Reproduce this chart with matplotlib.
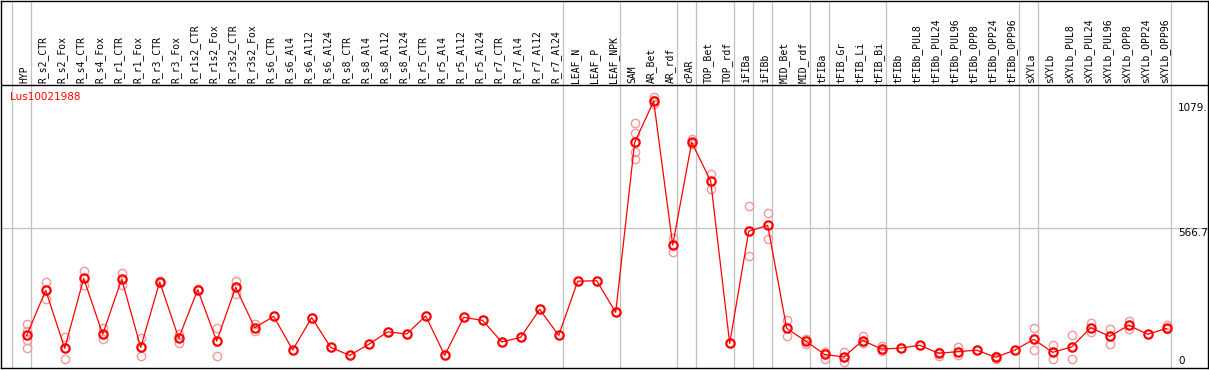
import matplotlib
matplotlib.use('Agg')
import matplotlib.pyplot as plt
import numpy as np

gene = 'Lus10021988'

samples = ['HYP', 'R_s2_CTR', 'R_s2_Fox', 'R_s4_CTR', 'R_s4_Fox', 'R_r1_CTR', 'R_r1_Fox',
           'R_r3_CTR', 'R_r3_Fox', 'R_r1s2_CTR', 'R_r1s2_Fox', 'R_r3s2_CTR', 'R_r3s2_Fox',
           'R_s6_CTR', 'R_s6_Al4', 'R_s6_Al12', 'R_s6_Al24', 'R_s8_CTR', 'R_s8_Al4',
           'R_s8_Al12', 'R_s8_Al24', 'R_r5_CTR', 'R_r5_Al4', 'R_r5_Al12', 'R_r5_Al24',
           'R_r7_CTR', 'R_r7_Al4', 'R_r7_Al12', 'R_r7_Al24', 'LEAF_N', 'LEAF_P', 'LEAF_NPK',
           'SAM', 'AR_Bet', 'AR_rdf', 'cPAR', 'TOP_Bet', 'TOP_rdf', 'iFIBa', 'iFIBb',
           'MID_Bet', 'MID_rdf', 'tFIBa', 'tFIB_Gr', 'tFIB_Li', 'tFIB_Bi', 'tFIBb',
           'tFIBb_PUL8', 'tFIBb_PUL24', 'tFIBb_PUL96', 'tFIBb_OPP8', 'tFIBb_OPP24',
           'tFIBb_OPP96', 'sXYLa', 'sXYLb', 'sXYLb_PUL8', 'sXYLb_PUL24', 'sXYLb_PUL96',
           'sXYLb_OPP8', 'sXYLb_OPP24', 'sXYLb_OPP96']

means = [109, 301, 54, 352, 114, 349, 58, 337, 97, 304, 85, 314, 142,
         190, 47, 185, 58, 24, 71, 124, 115, 192, 24, 186, 173, 81, 101, 220, 109,
         340, 342, 207,
         932, 1107, 494, 932, 766, 75, 553, 578, 139, 85,
         28, 17, 87, 51, 55, 67, 33, 40, 46, 16, 46,
         92, 37, 60, 142, 105, 152, 114, 139]

reps = [[158, 128, 89, 55], [335, 264], [101, 8], [383, 324], [139, 92], [375, 324],
        [99, 20], [342, 331], [114, 78], [306, 302], [142, 23], [342, 284], [156, 129],
        [], [], [], [], [], [], [], [], [], [], [], [], [], [], [], [],
        [], [], [],
        [1013, 970, 889, 859], [1124, 1112, 1093], [524, 463], [946, 923], [795, 731],
        [], [660, 446], [629, 521], [175, 105], [95, 71],
        [40, 10], [40, -4], [107, 75], [65, 43], [], [], [40, 23], [60, 24], [],
        [23, 7], [],
        [139, 46], [68, 10], [111, 10], [163, 125], [136, 74], [169, 136], [], [153, 136]]

# number of samples in each tissue group
groups = [1, 28, 3, 3, 1, 2, 1, 1, 2, 1, 3, 7, 1, 7]

y_ticks = [0, 566.7, 1079]
y_tick_labels = ['0', '566.7', '1079.']

# pixel layout helpers
px_x0, px_dx = 26.7, 19.0      # x pixel of first sample, spacing
px_y0, px_k = 361.0, 0.2347    # y pixel of value 0, pixels per unit

def vx(p):
    return (p - px_x0) / px_dx

def vy(p):
    return (px_y0 - p) / px_k

fig = plt.figure(figsize=(12.09, 3.70), dpi=100)
ax = fig.add_axes([1 / 1209, 2 / 370, 1207 / 1209, 367 / 370])
ax.set_xlim(vx(1), vx(1208))
ax.set_ylim(vy(368), vy(1))
ax.set_xticks([])
ax.set_yticks([])
for s in ax.spines.values():
    s.set_color('black')
    s.set_linewidth(1.0)

grid_color = '#c0c0c0'
x = np.arange(len(samples))
label_line = vy(85)

# group separators
ends = np.cumsum([0] + groups) - 1
for e in ends:
    ax.axvline(e + 4 / px_dx, color=grid_color, lw=0.9, zorder=1)

ax.axhline(label_line, color='black', lw=1.0, zorder=3)
ax.hlines(566.7, vx(1), vx(1208), color=grid_color, lw=0.9, zorder=1)

# replicate points
for i, r in enumerate(reps):
    if r:
        ax.plot([i] * len(r), r, 'o', ms=6, mfc='none', mec='#f09a9a', mew=1.0, zorder=2)

ax.plot(x, means, '-', color='red', lw=0.9, zorder=3)
ax.plot(x, means, 'o', ms=6, mfc='none', mec='red', mew=1.6, zorder=4)

# sample labels
for i, name in enumerate(samples):
    ax.text(i - 2.5 / px_dx, vy(83), name, rotation=90, ha='center', va='bottom',
            family='DejaVu Sans Mono', fontsize=7, color='black')

ax.text(vx(10), vy(97), gene, color='red', fontsize=7.5, ha='left', va='center')

for v, lab in zip(y_ticks, y_tick_labels):
    va = 'top' if v == 566.7 else 'center'
    ax.text(vx(1178), v, lab, fontsize=7.5, ha='left', va=va, color='black')

fig.savefig('out.png', dpi=100)
